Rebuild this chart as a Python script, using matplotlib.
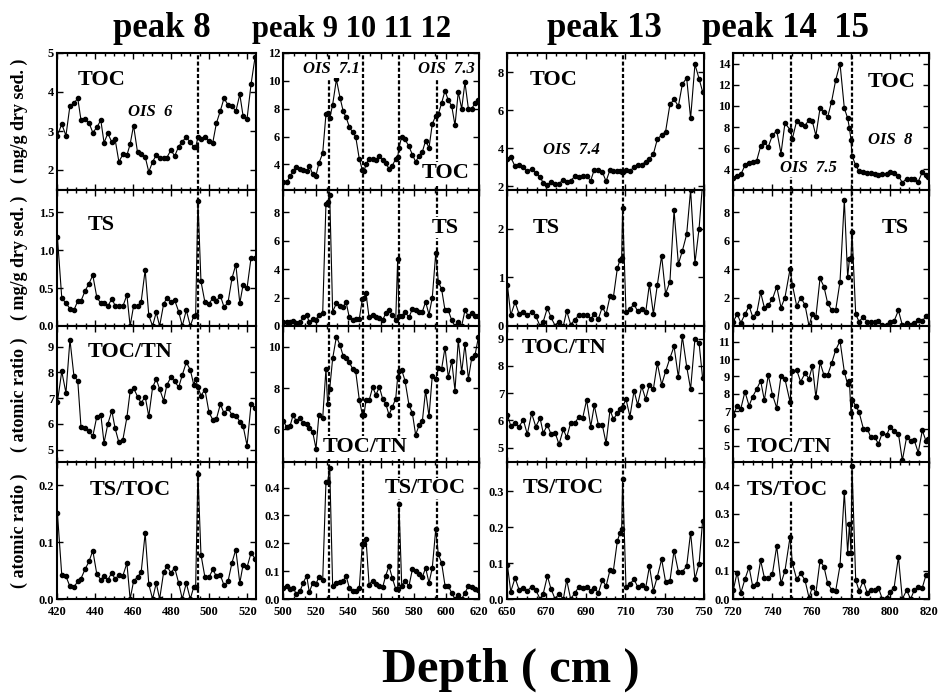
import matplotlib
matplotlib.use("Agg")
import matplotlib.pyplot as plt
from matplotlib.ticker import AutoMinorLocator, FormatStrFormatter

plt.rcParams["font.family"] = ["Liberation Serif", "DejaVu Serif"]
plt.rcParams["font.weight"] = "bold"

# ---- peak 8 (420-524 cm)
depth_a = [420.2, 422.5, 424.7, 426.8, 428.9, 430.9, 432.6, 434.7, 436.8, 438.8,
           440.9, 443.0, 444.7, 446.7, 448.8, 450.5, 452.5, 454.6, 456.7, 458.4,
           460.2, 462.3, 464.2, 466.3, 468.2, 470.2, 472.1, 473.9, 476.0, 477.7,
           479.8, 481.8, 483.9, 485.8, 487.9, 490.0, 491.8, 492.8, 494.0, 495.6,
           497.7, 499.8, 501.8, 503.7, 505.8, 507.7, 509.8, 511.9, 513.9, 516.0,
           517.7, 519.8, 521.9, 524.0]
toc_a = [2.88, 3.18, 2.88, 3.65, 3.71, 3.84, 3.28, 3.30, 3.21, 2.96,
         3.09, 3.28, 2.70, 2.94, 2.71, 2.79, 2.21, 2.40, 2.38, 2.66,
         3.14, 2.45, 2.40, 2.34, 1.95, 2.21, 2.38, 2.30, 2.30, 2.32,
         2.51, 2.36, 2.60, 2.73, 2.84, 2.71, 2.60, 2.58, 2.84, 2.79,
         2.85, 2.75, 2.70, 3.20, 3.52, 3.84, 3.67, 3.65, 3.50, 3.94,
         3.39, 3.31, 4.20, 4.89]
ts_a = [1.18, 0.37, 0.30, 0.23, 0.21, 0.33, 0.33, 0.46, 0.56, 0.67,
        0.38, 0.30, 0.30, 0.26, 0.36, 0.27, 0.26, 0.26, 0.41, 0.0,
        0.26, 0.26, 0.32, 0.74, 0.14, 0.0, 0.18, 0.0, 0.29, 0.37,
        0.31, 0.34, 0.19, 0.0, 0.21, 0.0, 0.13, 0.14, 1.65, 0.59,
        0.31, 0.29, 0.37, 0.33, 0.40, 0.25, 0.31, 0.63, 0.81, 0.30,
        0.54, 0.50, 0.90, 0.90]
tocn_a = [6.84, 8.04, 7.20, 9.27, 7.85, 7.68, 5.87, 5.84, 5.71, 5.52,
          6.28, 6.36, 5.26, 6.00, 6.51, 5.83, 5.28, 5.39, 6.25, 7.26,
          7.39, 7.06, 6.81, 7.06, 6.29, 7.42, 7.74, 7.35, 6.90, 7.51,
          7.81, 7.65, 7.42, 7.90, 8.39, 8.10, 7.52, 7.74, 7.42, 7.10,
          7.33, 6.45, 6.16, 6.19, 6.77, 6.41, 6.60, 6.35, 6.32, 6.09,
          5.93, 5.16, 6.77, 6.60]
tstoc_a = [0.152, 0.042, 0.040, 0.022, 0.021, 0.031, 0.036, 0.052, 0.066, 0.085,
           0.044, 0.034, 0.041, 0.034, 0.046, 0.035, 0.042, 0.041, 0.063, 0.0,
           0.031, 0.039, 0.047, 0.116, 0.026, 0.0, 0.028, 0.0, 0.047, 0.058,
           0.046, 0.055, 0.028, 0.0, 0.028, 0.0, 0.021, 0.021, 0.220, 0.078,
           0.038, 0.038, 0.052, 0.040, 0.042, 0.024, 0.031, 0.064, 0.087, 0.028,
           0.060, 0.056, 0.081, 0.071]

# ---- peaks 9-12 (500-620 cm)
depth_b = [500.2, 502.2, 504.3, 506.3, 508.0, 510.4, 512.4, 514.5, 516.1, 518.2,
           520.2, 522.0, 524.3, 526.3, 527.3, 528.6, 530.4, 532.7, 534.9, 536.9,
           538.6, 540.6, 542.7, 544.5, 546.7, 548.6, 549.6, 550.8, 552.7, 554.9,
           556.9, 559.0, 561.0, 562.9, 564.9, 566.9, 569.0, 570.2, 571.0, 572.7,
           574.7, 577.1, 579.2, 581.2, 583.3, 585.3, 587.3, 589.4, 591.4, 593.5,
           595.1, 597.1, 599.2, 601.2, 603.3, 605.3, 607.3, 609.4, 611.4, 613.5,
           615.5, 617.6, 619.6]
toc_b = [2.74, 2.71, 3.15, 3.50, 3.80, 3.70, 3.62, 3.50, 3.90, 3.30,
         3.20, 4.10, 4.80, 7.60, 7.70, 7.30, 8.30, 10.10, 8.80, 7.80,
         7.40, 6.70, 6.30, 6.00, 4.40, 3.60, 3.50, 4.00, 4.40, 4.40,
         4.30, 4.60, 4.30, 4.10, 3.70, 3.90, 4.40, 4.50, 5.20, 6.00,
         5.80, 5.30, 4.70, 4.20, 4.60, 4.90, 5.70, 5.20, 6.90, 7.50,
         7.60, 8.40, 9.30, 8.60, 8.20, 6.80, 9.20, 8.00, 9.90, 8.00,
         8.00, 8.40, 8.60]
ts_b = [0.30, 0.30, 0.30, 0.35, 0.20, 0.25, 0.60, 0.80, 0.25, 0.50,
        0.45, 0.80, 0.90, 8.60, 8.70, 9.20, 1.00, 1.60, 1.40, 1.35,
        1.70, 0.60, 0.45, 0.50, 0.50, 1.90, 2.00, 2.30, 0.60, 0.80,
        0.60, 0.55, 0.40, 0.90, 1.10, 0.80, 0.40, 4.70, 0.70, 0.70,
        1.00, 0.60, 1.20, 1.10, 1.00, 1.00, 1.70, 0.80, 2.00, 5.10,
        3.10, 2.60, 1.10, 1.10, 0.40, 0.00, 0.30, 0.00, 1.10, 0.70,
        0.90, 0.70, 0.70]
tocn_b = [6.43, 6.10, 6.16, 6.72, 6.40, 6.55, 6.30, 6.27, 6.06, 5.87,
          5.07, 6.72, 6.55, 8.92, 7.24, 7.96, 9.43, 10.48, 10.08, 9.53,
          9.43, 9.24, 8.92, 8.81, 7.44, 6.71, 6.71, 7.40, 7.40, 8.04,
          7.67, 8.05, 7.48, 7.24, 6.71, 7.08, 7.48, 8.52, 8.84, 8.87,
          8.36, 7.19, 6.79, 5.74, 6.19, 6.39, 7.88, 6.63, 8.60, 8.44,
          8.95, 8.92, 9.96, 8.52, 9.32, 7.88, 10.33, 8.76, 10.13, 8.44,
          9.43, 9.60, 10.45]
tstoc_b = [0.040, 0.046, 0.036, 0.040, 0.019, 0.028, 0.058, 0.084, 0.024, 0.058,
           0.054, 0.080, 0.067, 0.420, 0.420, 0.470, 0.046, 0.058, 0.060, 0.064,
           0.084, 0.040, 0.028, 0.030, 0.040, 0.199, 0.199, 0.217, 0.052, 0.066,
           0.054, 0.046, 0.042, 0.084, 0.118, 0.076, 0.036, 0.036, 0.340, 0.048,
           0.066, 0.046, 0.106, 0.100, 0.090, 0.078, 0.112, 0.058, 0.112, 0.250,
           0.160, 0.130, 0.048, 0.046, 0.022, 0.0, 0.016, 0.0, 0.022, 0.046,
           0.043, 0.036, 0.031]

# ---- peak 13 (650-750 cm)
depth_c = [650.2, 651.9, 654.1, 656.1, 658.3, 660.3, 662.5, 664.6, 666.8, 668.4,
           670.5, 672.3, 674.4, 676.4, 678.6, 680.3, 682.3, 684.5, 686.5, 688.4,
           690.4, 692.5, 694.3, 696.4, 698.4, 700.3, 702.3, 704.0, 706.0, 707.4,
           708.2, 708.7, 710.4, 712.4, 714.5, 716.3, 718.4, 720.4, 722.3, 724.3,
           726.3, 728.5, 730.5, 732.7, 734.8, 737.0, 739.0, 741.2, 743.2, 745.4,
           747.5, 749.3]
toc_c = [3.44, 3.53, 3.04, 3.13, 3.01, 2.78, 2.92, 2.70, 2.49, 2.17,
         2.05, 2.21, 2.14, 2.14, 2.35, 2.23, 2.30, 2.52, 2.47, 2.52,
         2.52, 2.30, 2.87, 2.87, 2.75, 2.26, 2.87, 2.82, 2.80, 2.78,
         2.76, 2.76, 2.87, 2.82, 2.99, 3.13, 3.13, 3.30, 3.44, 3.69,
         4.47, 4.70, 4.87, 6.30, 6.56, 6.21, 7.36, 7.69, 5.57, 8.40,
         7.65, 6.96]
ts_c = [0.85, 0.22, 0.49, 0.25, 0.28, 0.22, 0.28, 0.20, 0.0, 0.09,
        0.37, 0.18, 0.01, 0.09, 0.0, 0.31, 0.03, 0.13, 0.23, 0.22,
        0.23, 0.15, 0.24, 0.15, 0.39, 0.24, 0.61, 0.59, 1.18, 1.36,
        1.40, 2.42, 0.28, 0.35, 0.45, 0.30, 0.35, 0.28, 0.86, 0.25,
        0.84, 1.44, 0.66, 0.91, 2.37, 1.27, 1.54, 1.88, 2.79, 1.29,
        2.00, 2.93]
tocn_c = [6.20, 5.80, 5.90, 5.77, 6.02, 5.49, 6.26, 5.77, 6.08, 5.53,
          5.83, 5.50, 5.55, 5.12, 5.67, 5.37, 5.90, 5.90, 6.14, 6.08,
          6.75, 5.77, 6.55, 5.83, 5.83, 5.16, 6.39, 6.04, 6.26, 6.42,
          6.47, 6.50, 6.78, 6.14, 7.09, 6.57, 7.25, 6.78, 7.31, 7.15,
          8.10, 7.31, 7.80, 8.29, 8.72, 7.58, 9.09, 7.98, 7.15, 9.00,
          8.84, 7.55]
tstoc_c = [0.095, 0.020, 0.059, 0.026, 0.032, 0.023, 0.034, 0.025, 0.0, 0.015,
           0.064, 0.029, 0.0, 0.015, 0.0, 0.053, 0.0, 0.017, 0.034, 0.031,
           0.034, 0.023, 0.031, 0.017, 0.053, 0.036, 0.081, 0.079, 0.161, 0.185,
           0.194, 0.334, 0.034, 0.042, 0.055, 0.034, 0.039, 0.031, 0.091, 0.023,
           0.062, 0.111, 0.048, 0.050, 0.135, 0.076, 0.076, 0.091, 0.185, 0.056,
           0.098, 0.218]

# ---- peaks 14-15 (720-820 cm)
depth_d = [720.2, 722.1, 724.0, 726.1, 728.2, 730.0, 732.1, 734.1, 736.0, 738.0,
           740.1, 742.3, 744.5, 746.5, 749.1, 750.3, 752.5, 754.5, 756.7, 758.8,
           760.5, 762.3, 764.4, 766.4, 768.3, 770.3, 772.4, 774.6, 776.8, 778.5,
           779.4, 780.2, 780.7, 782.6, 784.3, 786.5, 788.5, 790.2, 792.2, 794.2,
           796.2, 798.4, 800.1, 802.2, 804.4, 806.4, 808.6, 810.6, 812.5, 814.5,
           816.6, 818.5, 819.7]
toc_d = [3.22, 3.38, 3.53, 4.38, 4.63, 4.72, 4.84, 6.19, 6.56, 6.13,
         7.22, 7.66, 5.50, 8.38, 7.75, 6.91, 8.59, 8.28, 8.13, 8.69,
         8.53, 7.19, 9.78, 9.38, 8.94, 10.41, 12.44, 14.00, 9.78, 8.84,
         7.91, 6.81, 5.31, 4.38, 3.84, 3.78, 3.69, 3.63, 3.53, 3.47,
         3.53, 3.53, 3.78, 3.69, 3.38, 2.75, 3.13, 3.13, 3.06, 2.84,
         3.75, 3.44, 3.31]
ts_d = [0.30, 0.85, 0.23, 0.82, 1.41, 0.66, 0.89, 2.37, 1.29, 1.48,
        1.88, 2.77, 1.30, 2.00, 4.00, 2.90, 1.40, 2.00, 1.50, 0.0,
        0.85, 0.65, 3.35, 2.77, 1.60, 1.13, 1.13, 3.12, 8.87, 3.43,
        4.70, 4.77, 6.64, 0.85, 0.30, 0.66, 0.30, 0.30, 0.30, 0.35,
        0.05, 0.05, 0.30, 0.35, 1.10, 0.05, 0.20, 0.05, 0.20, 0.40,
        0.35, 0.70, 0.70]
tocn_d = [6.77, 7.31, 7.15, 8.12, 7.31, 7.83, 8.27, 8.75, 7.63, 9.08,
          7.96, 7.19, 9.02, 8.85, 7.54, 9.33, 9.37, 8.69, 9.17, 8.88,
          9.60, 7.79, 9.81, 9.08, 9.08, 9.75, 10.52, 11.04, 9.27, 8.54,
          8.73, 6.87, 7.67, 7.31, 6.96, 6.00, 6.00, 5.52, 5.52, 5.13,
          5.75, 5.62, 6.10, 5.87, 5.71, 4.17, 5.52, 5.27, 5.33, 4.62,
          5.90, 5.27, 5.38]
tstoc_d = [0.033, 0.093, 0.021, 0.070, 0.112, 0.046, 0.051, 0.136, 0.075, 0.075,
           0.088, 0.186, 0.055, 0.099, 0.218, 0.126, 0.069, 0.090, 0.067, 0.004,
           0.043, 0.021, 0.135, 0.114, 0.055, 0.033, 0.029, 0.118, 0.376, 0.162,
           0.263, 0.162, 0.468, 0.067, 0.029, 0.064, 0.021, 0.033, 0.031, 0.039,
           0.0, 0.005, 0.025, 0.040, 0.148, 0.0, 0.031, 0.0, 0.031, 0.043,
           0.040, 0.085, 0.085]

depths = [depth_a, depth_b, depth_c, depth_d]
series = [[toc_a, ts_a, tocn_a, tstoc_a],
          [toc_b, ts_b, tocn_b, tstoc_b],
          [toc_c, ts_c, tocn_c, tstoc_c],
          [toc_d, ts_d, tocn_d, tstoc_d]]
peak_lines = [[494], [528, 549, 571, 594], [709], [749.5, 780.5]]
headers = ["peak 8", "peak 9 10 11 12", "peak 13", "peak 14  15"]

# ---- axes settings
xlims = [(420, 524.5), (500, 620), (650, 750), (720, 820)]
xstarts = [420, 500, 650, 720]
xminor = [4, 3, 4, 4]
ylims = [[(1.5, 5), (0, 1.8), (4.5, 9.8), (0, 0.24)],
         [(2.2, 12), (0, 9.6), (4.4, 11), (0, 0.49)],
         [(1.83, 9.0), (0, 2.8), (4.45, 9.47), (0, 0.38)],
         [(2.1, 15), (0, 9.6), (4.05, 11.9), (0, 0.48)]]
yticks = [[[2, 3, 4, 5], [0, 0.5, 1.0, 1.5], [5, 6, 7, 8, 9], [0, 0.1, 0.2]],
          [[4, 6, 8, 10, 12], [0, 2, 4, 6, 8], [6, 8, 10], [0, 0.1, 0.2, 0.3, 0.4]],
          [[2, 4, 6, 8], [0, 1, 2], [5, 6, 7, 8, 9], [0, 0.1, 0.2, 0.3]],
          [[4, 6, 8, 10, 12, 14], [0, 2, 4, 6, 8], [5, 6, 7, 8, 9, 10, 11],
           [0, 0.1, 0.2, 0.3, 0.4]]]

# in-panel labels, axes fraction
names = ["TOC", "TS", "TOC/TN", "TS/TOC"]
name_pos = [[(.106, .80), (.156, .74), (.156, .81), (.166, .80)],
            [(.709, .12), (.76, .72), (.204, .114), (.52, .81)],
            [(.117, .80), (.132, .72), (.076, .84), (.081, .81)],
            [(.689, .79), (.76, .72), (.071, .114), (.071, .80)]]
ois = [[("OIS  6", .357, .568)],
       [("OIS  7.1", .102, .883), ("OIS  7.3", .689, .883)],
       [("OIS  7.4", .183, .29)],
       [("OIS  8", .689, .36), ("OIS  7.5", .24, .157)]]

W, H = 940, 694
col_left = [57, 283, 507, 733]
col_width = [199, 196, 197, 196]
top_px, row_h = 53, 136.5
header_x = [162, 351, 604, 786]
header_size = [25, 22, 25, 25]

fig = plt.figure(figsize=(W / 100, H / 100), dpi=100)

for c in range(4):
    for r in range(4):
        ax = fig.add_axes([col_left[c] / W, (H - top_px - (r + 1) * row_h) / H,
                           col_width[c] / W, row_h / H])
        ax.plot(depths[c], series[c][r], color="black", lw=0.8, marker="o",
                ms=3, zorder=3)
        for xv in peak_lines[c]:
            ax.axvline(xv, color="black", lw=1.6, ls=(0, (1.8, 1.0)), zorder=2)

        ax.set_xlim(*xlims[c])
        ax.set_xticks(range(xstarts[c], int(xlims[c][1]) + 1, 20))
        ax.xaxis.set_minor_locator(AutoMinorLocator(xminor[c]))
        ax.set_ylim(*ylims[c][r])
        ax.set_yticks(yticks[c][r])
        if r == 3 or (c == 0 and r == 1):
            ax.yaxis.set_major_formatter(FormatStrFormatter("%.1f"))
        else:
            ax.yaxis.set_major_formatter(FormatStrFormatter("%d"))

        ax.tick_params(which="both", direction="in", top=True, right=True,
                       labelsize=9, width=1, pad=2)
        ax.tick_params(which="major", length=4)
        ax.tick_params(which="minor", length=2)
        ax.tick_params(axis="x", labelbottom=(r == 3), pad=5)
        for lab in ax.get_xticklabels() + ax.get_yticklabels():
            lab.set_fontweight("bold")
        for sp in ax.spines.values():
            sp.set_linewidth(1.5)

        fx, fy = name_pos[c][r]
        ax.text(fx, fy, names[r], transform=ax.transAxes, fontsize=16,
                fontweight="bold", ha="left", va="center", zorder=5,
                bbox=dict(facecolor="white", edgecolor="none", pad=0.5))
        if r == 0:
            for txt, ox, oy in ois[c]:
                ax.text(ox, oy, txt, transform=ax.transAxes, fontsize=12,
                        fontweight="bold", style="italic", ha="left",
                        va="center", zorder=5,
                        bbox=dict(facecolor="white", edgecolor="none", pad=0.5))

    fig.text(header_x[c] / W, 1 - 37 / H, headers[c], ha="center",
             va="baseline", fontsize=header_size[c], fontweight="bold")

ylabels = ["( mg/g dry sed. )", "( mg/g dry sed. )",
           "( atomic ratio )", "( atomic ratio )"]
for r, lab in enumerate(ylabels):
    yc = H - top_px - (r + 0.5) * row_h
    fig.text(19 / W, yc / H, lab, rotation=90, ha="center", va="center",
             fontsize=13, fontweight="bold")

fig.text(511 / W, 12 / H, "Depth ( cm )", ha="center", va="baseline",
         fontsize=35, fontweight="bold")

fig.savefig("out.png", dpi=100, facecolor="white")
